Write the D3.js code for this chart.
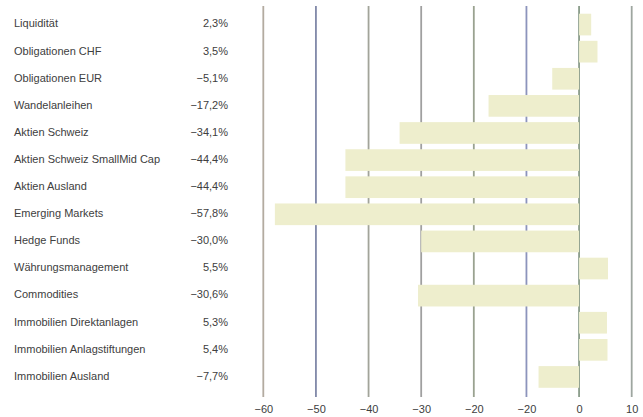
<!DOCTYPE html>
<html><head><meta charset="utf-8">
<script src="https://cdn.jsdelivr.net/npm/d3@7"></script>
<style>
html,body{margin:0;padding:0;background:#fff;}
svg{display:block;}
text{font-family:"Liberation Sans",Arial,sans-serif;fill:#404040;}
</style></head>
<body>
<script>
const categories = ["Liquidität","Obligationen CHF","Obligationen EUR","Wandelanleihen","Aktien Schweiz","Aktien Schweiz SmallMid Cap","Aktien Ausland","Emerging Markets","Hedge Funds","Währungsmanagement","Commodities","Immobilien Direktanlagen","Immobilien Anlagstiftungen","Immobilien Ausland"];
const values = [2.3,3.5,-5.1,-17.2,-34.1,-44.4,-44.4,-57.8,-30.0,5.5,-30.6,5.3,5.4,-7.7];
const tickValues = [-60,-50,-40,-30,-20,-10,0,10];
const tickLabels = ["−60","−50","−40","−30","−20","−20","0","10"];
const gridColors = ["#b3aba0","#8088a8","#a2a49a","#a0a0a0","#9aa290","#8c94bc","#8a9c8a","#9ea6a0"];

const W = 643, H = 417;
const svg = d3.select("body").append("svg").attr("width", W).attr("height", H);

const x = d3.scaleLinear().domain([-60, 10]).range([263.3, 631.7]);
const y = d3.scaleBand().domain(categories).range([11, 390.5]).paddingInner(0.2).paddingOuter(0.1);

// gridlines
svg.append("g").selectAll("line").data(tickValues).join("line")
  .attr("x1", d => x(d)).attr("x2", d => x(d))
  .attr("y1", 6).attr("y2", 397)
  .attr("stroke", (d, i) => gridColors[i]).attr("stroke-width", 1.8);

// bars
svg.append("g").selectAll("rect").data(values).join("rect")
  .attr("x", d => x(Math.min(0, d)))
  .attr("width", d => Math.abs(x(d) - x(0)))
  .attr("y", (d, i) => y(categories[i]))
  .attr("height", y.bandwidth())
  .attr("fill", "#eeeecd");

// category labels
const fmt = v => (v < 0 ? "−" : "") + d3.format(".1f")(Math.abs(v)).replace(".", ",") + "%";
svg.append("g").selectAll("text").data(categories).join("text")
  .attr("x", 14).attr("y", d => y(d) + y.bandwidth() / 2 - 1)
  .attr("dy", "0.35em").attr("font-size", 11).text(d => d);

svg.append("g").selectAll("text").data(values).join("text")
  .attr("x", 228).attr("y", (d, i) => y(categories[i]) + y.bandwidth() / 2 - 1)
  .attr("dy", "0.35em").attr("text-anchor", "end").attr("font-size", 11).text(d => fmt(d));

// axis tick labels
const axis = d3.axisBottom(x).tickValues(tickValues).tickSize(0).tickPadding(0)
  .tickFormat((d, i) => tickLabels[i]);
const ag = svg.append("g").attr("transform", "translate(0,405)").call(axis);
ag.select(".domain").remove();
ag.selectAll("text").attr("font-size", 11).attr("fill", "#404040")
  .style("font-family", '"Liberation Sans",Arial,sans-serif');
</script>
</body></html>
